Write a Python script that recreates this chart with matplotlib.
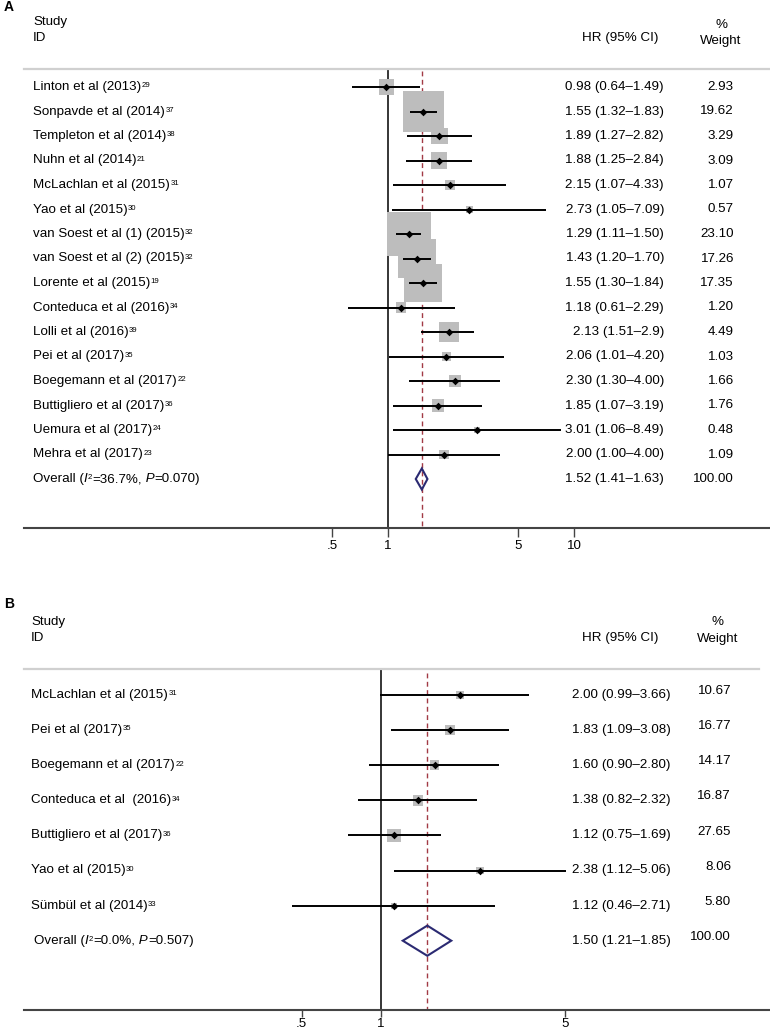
import numpy as np
import matplotlib
matplotlib.use("Agg")
import matplotlib.pyplot as plt
from matplotlib.patches import Polygon
from matplotlib.transforms import blended_transform_factory

plt.rcParams['font.family'] = ['Liberation Sans', 'DejaVu Sans']

# ---------------- Data: panel A ----------------
studies_a = ["Linton et al (2013)", "Sonpavde et al (2014)", "Templeton et al (2014)",
             "Nuhn et al (2014)", "McLachlan et al (2015)", "Yao et al (2015)",
             "van Soest et al (1) (2015)", "van Soest et al (2) (2015)", "Lorente et al (2015)",
             "Conteduca et al (2016)", "Lolli et al (2016)", "Pei et al (2017)",
             "Boegemann et al (2017)", "Buttigliero et al (2017)", "Uemura et al (2017)",
             "Mehra et al (2017)"]
refs_a = [29, 37, 38, 21, 31, 30, 32, 32, 19, 34, 39, 35, 22, 36, 24, 23]
hr_a = [0.98, 1.55, 1.89, 1.88, 2.15, 2.73, 1.29, 1.43, 1.55, 1.18, 2.13, 2.06, 2.30, 1.85, 3.01, 2.00]
lo_a = [0.64, 1.32, 1.27, 1.25, 1.07, 1.05, 1.11, 1.20, 1.30, 0.61, 1.51, 1.01, 1.30, 1.07, 1.06, 1.00]
hi_a = [1.49, 1.83, 2.82, 2.84, 4.33, 7.09, 1.50, 1.70, 1.84, 2.29, 2.9, 4.20, 4.00, 3.19, 8.49, 4.00]
ci_text_a = ["0.98 (0.64–1.49)", "1.55 (1.32–1.83)", "1.89 (1.27–2.82)", "1.88 (1.25–2.84)",
             "2.15 (1.07–4.33)", "2.73 (1.05–7.09)", "1.29 (1.11–1.50)", "1.43 (1.20–1.70)",
             "1.55 (1.30–1.84)", "1.18 (0.61–2.29)", "2.13 (1.51–2.9)", "2.06 (1.01–4.20)",
             "2.30 (1.30–4.00)", "1.85 (1.07–3.19)", "3.01 (1.06–8.49)", "2.00 (1.00–4.00)"]
weight_a = [2.93, 19.62, 3.29, 3.09, 1.07, 0.57, 23.10, 17.26, 17.35, 1.20, 4.49, 1.03,
            1.66, 1.76, 0.48, 1.09]
overall_a = (1.52, 1.41, 1.63)
overall_text_a = "1.52 (1.41–1.63)"
i2_a, p_a = "36.7", "0.070"
ticks_a = [0.5, 1, 5, 10]
ticklabels_a = [".5", "1", "5", "10"]

# ---------------- Data: panel B ----------------
studies_b = ["McLachlan et al (2015)", "Pei et al (2017)", "Boegemann et al (2017)",
             "Conteduca et al  (2016)", "Buttigliero et al (2017)", "Yao et al (2015)",
             "Sümbül et al (2014)"]
refs_b = [31, 35, 22, 34, 36, 30, 33]
hr_b = [2.00, 1.83, 1.60, 1.38, 1.12, 2.38, 1.12]
lo_b = [0.99, 1.09, 0.90, 0.82, 0.75, 1.12, 0.46]
hi_b = [3.66, 3.08, 2.80, 2.32, 1.69, 5.06, 2.71]
ci_text_b = ["2.00 (0.99–3.66)", "1.83 (1.09–3.08)", "1.60 (0.90–2.80)", "1.38 (0.82–2.32)",
             "1.12 (0.75–1.69)", "2.38 (1.12–5.06)", "1.12 (0.46–2.71)"]
weight_b = [10.67, 16.77, 14.17, 16.87, 27.65, 8.06, 5.80]
overall_b = (1.50, 1.21, 1.85)
overall_text_b = "1.50 (1.21–1.85)"
i2_b, p_b = "0.0", "0.507"
ticks_b = [0.5, 1, 5]
ticklabels_b = [".5", "1", "5"]

W, H = 770, 1031
FS = 9.6
SUP_FS = 5.6
fig = plt.figure(figsize=(W / 100, H / 100), dpi=100)

BOX_C = '#bdbdbd'
NAVY = '#2b2a72'
RED = '#a23a45'


def add_sup(ax, base, txt):
    return ax.annotate(txt, xy=(1, 1), xycoords=base, xytext=(0.3, -1.0),
                       textcoords='offset points', fontsize=SUP_FS, ha='left', va='top')


def rich_text(ax, x, y, pieces, tr):
    """pieces: list of (text, kind) with kind in 'n' (normal), 'i' (italic), 'sup'."""
    first_txt, first_kind = pieces[0]
    base = ax.text(x, y, first_txt, transform=tr, ha='left', va='center', fontsize=FS,
                   style='italic' if first_kind == 'i' else 'normal')
    prev = base
    for txt, kind in pieces[1:]:
        if kind == 'sup':
            prev = add_sup(ax, prev, txt)
        else:
            a = ax.annotate(txt, xy=(1, 0), xycoords=(prev, base), ha='left', va='bottom',
                            fontsize=FS, style='italic' if kind == 'i' else 'normal')
            prev = a
    return base


def panel(letter, studies, refs, hr, lo, hi, ci_text, weights, overall, overall_text,
          i2, p, ticks, ticklabels, top, bottom, row0, step, x1, decade, box_k,
          label_x, hr_right, w_right, w_dy, head, gray_right, overall_label_x,
          tick_len, tick_pad):
    ax = fig.add_axes([0, 1 - bottom / H, 1, (bottom - top) / H])
    ax.set_xscale('log')
    ax.set_xlim(10 ** (-x1 / decade), 10 ** ((W - x1) / decade))
    r = lambda px: (px - row0) / step
    ymax = r(bottom)
    ax.set_ylim(ymax, r(top))
    for s in ax.spines.values():
        s.set_visible(False)
    ax.set_yticks([])
    ax.set_xticks(ticks)
    ax.set_xticklabels(ticklabels, fontsize=FS)
    ax.xaxis.set_minor_locator(matplotlib.ticker.NullLocator())
    ax.tick_params(axis='x', direction='out', length=tick_len, width=1.0, pad=tick_pad,
                   color='#444444')
    tr = blended_transform_factory(ax.transAxes, ax.transData)
    fx = lambda px: px / W

    gray_y = r(head['line'])
    n = len(studies)
    rows = np.arange(n)
    orow = n

    # reference lines
    ax.plot([1, 1], [gray_y, ymax], color='black', lw=1.1, zorder=1, solid_capstyle='butt')
    ax.plot([overall[0]] * 2, [gray_y + 0.1, ymax], color=RED, lw=1.0,
            ls=(0, (3.5, 2.5)), zorder=1)
    ax.axhline(gray_y, xmin=fx(24), xmax=fx(gray_right), color='#d0d0d0', lw=1.6, zorder=1)
    ax.axhline(ymax, xmin=fx(24), xmax=1, color='#444444', lw=1.5, zorder=1, clip_on=False)

    # boxes, CIs, points
    ax.scatter(hr, rows, marker='s', s=box_k * np.array(weights), color=BOX_C,
               linewidths=0, zorder=2)
    ax.hlines(rows, lo, hi, color='black', lw=1.4, zorder=3)
    ax.scatter(hr, rows, marker='D', s=15, color='black', linewidths=0, zorder=4)

    # overall diamond
    est, olo, ohi = overall
    h = 0.43
    ax.add_patch(Polygon([(olo, orow), (est, orow - h), (ohi, orow), (est, orow + h)],
                         closed=True, fill=False, edgecolor=NAVY, lw=1.5, zorder=3))

    # texts
    for i in range(n):
        t = ax.text(fx(label_x), i, studies[i], transform=tr, ha='left', va='center',
                    fontsize=FS)
        add_sup(ax, t, str(refs[i]))
        ax.text(fx(hr_right), i, ci_text[i], transform=tr, ha='right', va='center',
                fontsize=FS)
        ax.text(fx(w_right), i + w_dy, f"{weights[i]:.2f}", transform=tr, ha='right',
                va='center', fontsize=FS)
    rich_text(ax, fx(overall_label_x), orow,
              [("Overall (", 'n'), ("I", 'i'), ("2", 'sup'), (f"={i2}%,", 'n'),
               (" P", 'i'), (f"={p})", 'n')], tr)
    ax.text(fx(hr_right), orow, overall_text, transform=tr, ha='right', va='center',
            fontsize=FS)
    ax.text(fx(w_right), orow + w_dy, "100.00", transform=tr, ha='right', va='center',
            fontsize=FS)

    # headers
    ax.text(fx(4), r(head['letter']), letter, transform=tr, ha='left', va='center',
            fontsize=FS + 0.4, fontweight='bold')
    ax.text(fx(label_x), r(head['study']), "Study", transform=tr, ha='left', va='center',
            fontsize=FS)
    ax.text(fx(label_x), r(head['id']), "ID", transform=tr, ha='left', va='center',
            fontsize=FS)
    ax.text(fx(620), r(head['hr']), "HR (95% CI)", transform=tr, ha='center', va='center',
            fontsize=FS)
    ax.text(fx(head['wx']), r(head['pct']), "%", transform=tr, ha='center', va='center',
            fontsize=FS)
    ax.text(fx(head['wx']), r(head['weight']), "Weight", transform=tr, ha='center',
            va='center', fontsize=FS)
    return ax


panel("A", studies_a, refs_a, hr_a, lo_a, hi_a, ci_text_a, weight_a, overall_a,
      overall_text_a, i2_a, p_a, ticks_a, ticklabels_a,
      top=0, bottom=528, row0=87, step=24.5, x1=388, decade=186, box_k=43.5,
      label_x=33, hr_right=664, w_right=734, w_dy=0.0,
      head=dict(letter=7, study=22, id=38, hr=38, pct=25, weight=41, line=69, wx=721),
      gray_right=770, overall_label_x=33, tick_len=6.3, tick_pad=2.5)

panel("B", studies_b, refs_b, hr_b, lo_b, hi_b, ci_text_b, weight_b, overall_b,
      overall_text_b, i2_b, p_b, ticks_b, ticklabels_b,
      top=590, bottom=1010, row0=695, step=35.1, x1=381, decade=263, box_k=3.33,
      label_x=31, hr_right=671, w_right=731, w_dy=-0.11,
      head=dict(letter=604, study=622, id=638, hr=638, pct=622, weight=639, line=669, wx=718),
      gray_right=759, overall_label_x=34, tick_len=5.0, tick_pad=0.8)

fig.savefig("out.png", dpi=100)
